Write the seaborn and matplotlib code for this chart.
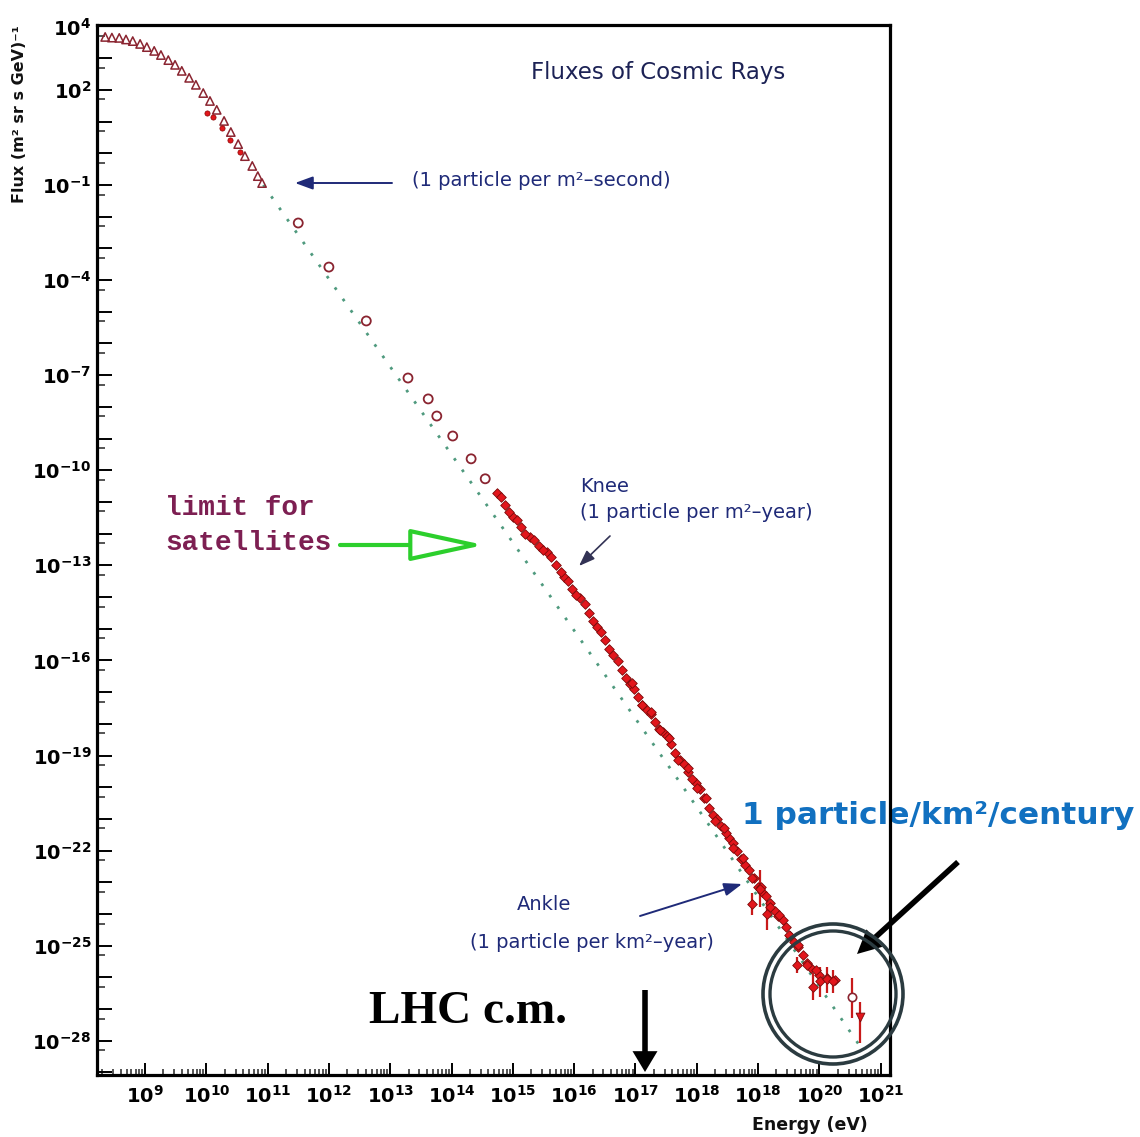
import numpy as np
import pandas as pd
import matplotlib
matplotlib.use("Agg")
import matplotlib.pyplot as plt
import seaborn as sns
from matplotlib.ticker import FixedLocator, NullFormatter
from matplotlib.patches import Ellipse

# ---------------- data (log10 values) ----------------
# low-energy direct measurements (open triangles)
tri_log_e = [8.35, 8.46, 8.58, 8.69, 8.80, 8.92, 9.03, 9.15, 9.26, 9.38, 9.49, 9.60,
             9.72, 9.83, 9.95, 10.06, 10.17, 10.29, 10.40, 10.52, 10.63, 10.75, 10.84, 10.91]
tri_log_f = [3.67, 3.65, 3.64, 3.59, 3.54, 3.45, 3.35, 3.23, 3.10, 2.94, 2.79, 2.60,
             2.38, 2.16, 1.90, 1.65, 1.37, 1.02, 0.67, 0.29, -0.09, -0.40, -0.72, -0.94]
# a few filled points overlapping the triangles
low_red_log_e = [10.01, 10.11, 10.26, 10.39, 10.55]
low_red_log_f = [1.27, 1.15, 0.80, 0.42, 0.04]
# open circles (satellite / balloon)
circ_log_e = [11.50, 12.00, 12.61, 13.29, 13.62, 13.76, 14.02, 14.32, 14.55]
circ_log_f = [-2.20, -3.59, -5.29, -7.09, -7.75, -8.29, -8.92, -9.64, -10.27]
# air-shower data (filled red)
red_log_e = [14.74, 14.87, 15.00, 15.13, 15.28, 15.43, 15.56, 15.71, 15.84, 15.97,
             16.10, 16.24, 16.37, 16.50, 16.64, 16.78, 16.91, 17.04, 17.19, 17.32,
             17.45, 17.58, 17.73, 17.86, 17.99, 18.12, 18.27, 18.40, 18.53, 18.66,
             18.79, 18.94, 19.07, 19.20, 19.33, 19.46, 19.59, 19.73, 19.87, 20.00,
             20.13, 20.26]
red_log_f = [-10.72, -11.10, -11.47, -11.79, -12.10, -12.39, -12.58, -12.99, -13.37, -13.74,
             -14.03, -14.50, -14.94, -15.35, -15.83, -16.30, -16.74, -17.15, -17.56, -17.94,
             -18.26, -18.63, -19.14, -19.52, -19.86, -20.34, -20.87, -21.22, -21.60, -22.01,
             -22.45, -22.86, -23.30, -23.65, -24.06, -24.41, -24.88, -25.29, -25.70, -25.92,
             -26.02, -26.08]
red2_log_e = [16.95, 17.10, 17.25, 17.40, 17.55, 17.70, 17.85, 18.00, 18.15, 18.30,
              18.45, 18.60, 18.75, 18.90, 19.05, 19.20, 19.35, 19.50, 19.65, 19.80]
red2_log_f = [-16.72, -17.42, -17.62, -18.21, -18.44, -19.14, -19.38, -20.02, -20.35, -21.06,
              -21.28, -21.93, -22.22, -22.88, -23.14, -23.78, -24.02, -24.66, -24.98, -25.62]
red3_log_e = [14.80, 14.94, 15.07, 15.20, 15.35, 15.50, 15.63, 15.78, 15.90, 16.03,
              16.17, 16.30, 16.44, 16.57, 16.71, 16.85, 16.98, 17.11, 17.26, 17.38,
              17.52, 17.65, 17.80, 17.92, 18.05, 18.20, 18.33, 18.47, 18.60, 18.72,
              18.86, 19.00, 19.13, 19.27, 19.40, 19.52, 19.66, 19.80, 19.94]
red3_log_f = [-10.86, -11.33, -11.58, -12.00, -12.20, -12.52, -12.74, -13.22, -13.50, -13.93,
              -14.22, -14.77, -15.10, -15.64, -16.02, -16.57, -16.90, -17.40, -17.70, -18.15,
              -18.40, -18.93, -19.28, -19.74, -20.05, -20.66, -21.00, -21.46, -21.76, -22.28,
              -22.60, -23.14, -23.42, -23.91, -24.18, -24.70, -25.03, -25.55, -25.76]
# highest-energy points with error bars
err_log_e = [18.90, 19.03, 19.15, 19.64, 19.90, 20.01, 20.13, 20.22]
err_log_f = [-23.68, -23.20, -24.00, -25.60, -26.30, -26.10, -26.05, -26.10]
err_hi = [-23.33, -22.61, -23.46, -25.35, -25.86, -25.67, -25.67, -25.76]
err_lo = [-24.03, -23.78, -24.50, -25.86, -26.71, -26.62, -26.49, -26.49]
last_circ_e, last_circ_f, last_circ_hi, last_circ_lo = [20.53], [-26.61], [-26.02], [-27.28]
last_tri_e, last_tri_f, last_tri_hi, last_tri_lo = [20.66], [-27.25], [-26.77], [-28.07]
# dotted power-law reference line
ref_log_e = [10.93, 14.63, 17.73, 20.66]
ref_log_f = [-1.00, -11.25, -19.86, -28.16]

x_tick_exp = list(range(9, 22))
x_tick_labels = ["$10^{9}$", "$10^{10}$", "$10^{11}$", "$10^{12}$", "$10^{13}$", "$10^{14}$",
                 "$10^{15}$", "$10^{16}$", "$10^{17}$", "$10^{18}$", "$10^{18}$", "$10^{20}$",
                 "$10^{21}$"]
y_label_exp = [4, 2, -1, -4, -7, -10, -13, -16, -19, -22, -25, -28]

# ---------------- figure ----------------
sns.set_theme(style="white")
plt.rcParams["font.family"] = ["DejaVu Sans"]
plt.rcParams["mathtext.default"] = "bf"

W, H = 1140, 1137
fig = plt.figure(figsize=(W / 100, H / 100), dpi=100)
fig.patch.set_facecolor("white")
ax = fig.add_axes([97 / W, 1 - 1075 / H, (890 - 97) / W, (1075 - 25) / H])
ax.set_facecolor("white")
ax.set_xscale("log")
ax.set_yscale("log")


def P(x, y):
    return (x / W, 1 - y / H)


def pw(v):
    return 10.0 ** np.asarray(v, dtype=float)


ref = pd.DataFrame({"E": pw(ref_log_e), "F": pw(ref_log_f)})
sns.lineplot(data=ref, x="E", y="F", ax=ax, color="#4f9a7e", lw=2.0,
             linestyle=(0, (1, 4)), estimator=None, sort=False, zorder=1)

dark_red = "#8a2430"
red = "#e2161c"

tri = pd.DataFrame({"E": pw(tri_log_e), "F": pw(tri_log_f)})
sns.scatterplot(data=tri, x="E", y="F", ax=ax, marker="^", s=36, facecolors="none",
                edgecolor=dark_red, linewidth=1.1, legend=False, zorder=3)

lowr = pd.DataFrame({"E": pw(low_red_log_e), "F": pw(low_red_log_f)})
sns.scatterplot(data=lowr, x="E", y="F", ax=ax, marker="o", s=14, color=red,
                edgecolor="#8b0000", linewidth=0.5, legend=False, zorder=3)

circ = pd.DataFrame({"E": pw(circ_log_e), "F": pw(circ_log_f)})
sns.scatterplot(data=circ, x="E", y="F", ax=ax, marker="o", s=42, facecolors="none",
                edgecolor=dark_red, linewidth=1.3, legend=False, zorder=3)

ax.vlines(pw(err_log_e), pw(err_lo), pw(err_hi), color="#c81a1a", lw=1.6, zorder=2)
ax.vlines(pw(last_circ_e), pw(last_circ_lo), pw(last_circ_hi), color="#c81a1a", lw=1.6, zorder=2)
ax.vlines(pw(last_tri_e), pw(last_tri_lo), pw(last_tri_hi), color="#c81a1a", lw=1.6, zorder=2)

for le, lf in [(red_log_e, red_log_f), (red3_log_e, red3_log_f),
               (red2_log_e, red2_log_f), (err_log_e, err_log_f)]:
    d = pd.DataFrame({"E": pw(le), "F": pw(lf)})
    sns.scatterplot(data=d, x="E", y="F", ax=ax, marker="D", s=24, color=red,
                    edgecolor="#7a0a0a", linewidth=0.6, legend=False, zorder=4)

lc = pd.DataFrame({"E": pw(last_circ_e), "F": pw(last_circ_f)})
sns.scatterplot(data=lc, x="E", y="F", ax=ax, marker="o", s=36, facecolors="white",
                edgecolor=dark_red, linewidth=1.2, legend=False, zorder=4)
lt = pd.DataFrame({"E": pw(last_tri_e), "F": pw(last_tri_f)})
sns.scatterplot(data=lt, x="E", y="F", ax=ax, marker="v", s=40, color=red,
                edgecolor="#7a0a0a", linewidth=0.6, legend=False, zorder=4)

# axes limits / ticks
ax.set_xlim(10 ** 8.217, 10 ** 21.153)
ax.set_ylim(10 ** -29.08, 10 ** 4.047)
ax.set_xlabel("")
ax.set_ylabel("")

ax.xaxis.set_major_locator(FixedLocator(pw(x_tick_exp)))
ax.set_xticklabels(x_tick_labels)
x_minor = [m * 10.0 ** k for k in range(8, 22) for m in range(2, 10)]
ax.xaxis.set_minor_locator(FixedLocator(x_minor))
ax.xaxis.set_minor_formatter(NullFormatter())

y_major_exp = list(range(-29, 5))
ax.yaxis.set_major_locator(FixedLocator(pw(y_major_exp)))
ax.set_yticklabels([("$10^{%d}$" % e) if e in y_label_exp else "" for e in y_major_exp])
y_minor = [5 * 10.0 ** k for k in range(-30, 4)]
ax.yaxis.set_minor_locator(FixedLocator(y_minor))
ax.yaxis.set_minor_formatter(NullFormatter())

ax.tick_params(axis="x", which="major", direction="in", length=9, width=1.4,
               bottom=True, top=False, labelsize=14, pad=7, colors="black")
ax.tick_params(axis="x", which="minor", direction="in", length=4.5, width=1.1,
               bottom=True, top=False)
ax.tick_params(axis="y", which="major", direction="in", length=10.5, width=1.4,
               left=True, right=False, labelsize=14, pad=4, colors="black")
ax.tick_params(axis="y", which="minor", direction="in", length=5.5, width=1.1,
               left=True, right=False)
for s in ax.spines.values():
    s.set_visible(True)
    s.set_color("black")
    s.set_linewidth(2.3)
    s.set_zorder(6)

# ---------------- texts ----------------
navy = "#1f2a78"
fig.text(20 / W, 1 - 25 / H, "Flux (m² sr s GeV)⁻¹", rotation=90, ha="center", va="top",
         fontsize=11.5, weight="bold", color="#111111")
fig.text(868 / W, 1 - 1125 / H, "Energy (eV)", ha="right", va="center",
         fontsize=12.5, weight="bold", color="#111111")
fig.text(*P(658, 72), "Fluxes of Cosmic Rays", ha="center", va="center",
         fontsize=16.5, color="#1c2255")
fig.text(*P(412, 180), "(1 particle per m²–second)", ha="left", va="center",
         fontsize=14, color=navy)
fig.text(*P(580, 487), "Knee", ha="left", va="center", fontsize=14, color=navy)
fig.text(*P(580, 513), "(1 particle per m²–year)", ha="left", va="center",
         fontsize=14, color=navy)
fig.text(*P(544, 904), "Ankle", ha="center", va="center", fontsize=14, color=navy)
fig.text(*P(592, 942), "(1 particle per km²–year)", ha="center", va="center",
         fontsize=14, color=navy)
fig.text(*P(165, 508), "limit for", ha="left", va="center", fontsize=20,
         family="Liberation Mono", weight="bold", color="#7d1f52")
fig.text(*P(165, 543), "satellites", ha="left", va="center", fontsize=20,
         family="Liberation Mono", weight="bold", color="#7d1f52")
fig.text(*P(468, 1012), "LHC c.m.", ha="center", va="center", fontsize=34,
         family="Liberation Serif", weight="bold", color="black")
ax.text(742 / W, 1 - 815 / H, "1 particle/km²/century", transform=fig.transFigure,
        ha="left", va="center", fontsize=22.5, weight="bold", color="#1170c0",
        clip_on=False, zorder=2)


def arrow(p0, p1, style, color, lw, scale):
    ax.annotate("", xy=P(*p1), xytext=P(*p0), xycoords="figure fraction",
                textcoords="figure fraction", annotation_clip=False,
                arrowprops=dict(arrowstyle=style, color=color, lw=lw,
                                mutation_scale=scale, shrinkA=0, shrinkB=0))


arrow((392, 183), (295, 183), "-|>,head_length=0.6,head_width=0.22", navy, 1.4, 18)
arrow((610, 536), (579, 566), "-|>,head_length=0.6,head_width=0.22", "#333355", 1.2, 16)
arrow((640, 916), (742, 884), "-|>,head_length=0.6,head_width=0.22", navy, 1.4, 18)
arrow((645, 990), (645, 1072), "simple,head_length=0.75,head_width=0.9,tail_width=0.2",
      "black", 0, 20)
arrow((958, 862), (857, 954), "simple,head_length=0.85,head_width=0.85,tail_width=0.2",
      "black", 0, 20)

ax.annotate("", xy=P(484, 545), xytext=P(340, 545), xycoords="figure fraction",
            textcoords="figure fraction", annotation_clip=False,
            arrowprops=dict(arrowstyle="-|>,head_length=2.3,head_width=0.5",
                            fc="white", ec="#2ccf2c", lw=3, mutation_scale=20,
                            shrinkA=0, shrinkB=0))

# double circle around highest-energy events
for r, lw in [(70, 2.6), (63, 2.4)]:
    fig.add_artist(Ellipse(P(833, 994), 2 * r / W, 2 * r / H, transform=fig.transFigure,
                           fill=False, ec="#2b3b40", lw=lw))

fig.savefig("out.png", dpi=100, facecolor="white")
